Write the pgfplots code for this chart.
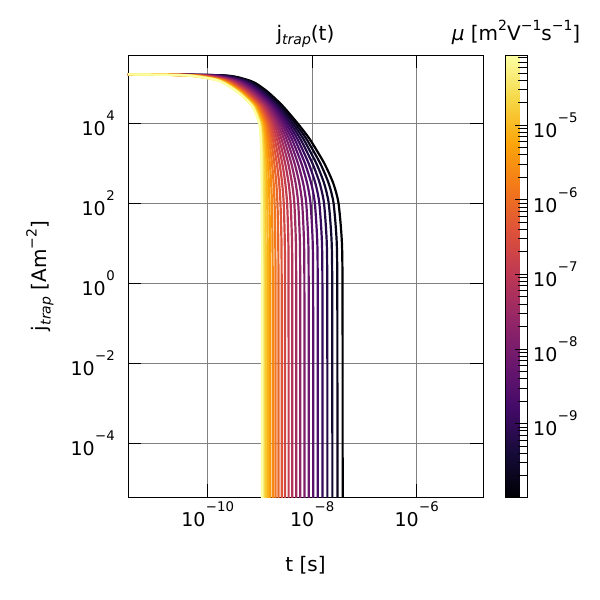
\documentclass[border=0pt]{standalone}
\usepackage{fontspec}
\setmainfont{DejaVu Sans}
\usepackage{pgfplots}
\pgfplotsset{compat=1.18}
\usepackage{pgfplotstable}

\newcommand\tl[1]{{\fontsize{19}{19}\selectfont 10}\kern0.5pt\raisebox{15pt}{\fontsize{13.3}{13.3}\selectfont #1}}
\newcommand\sps[1]{\raisebox{10pt}{\fontsize{14}{14}\selectfont #1}}

\pgfplotsset{colormap={inferno}{rgb255=(0,0,4) rgb255=(22,11,57) rgb255=(66,10,104) rgb255=(106,23,110) rgb255=(147,38,103) rgb255=(188,55,84) rgb255=(221,81,58) rgb255=(243,120,25) rgb255=(252,165,10) rgb255=(246,215,70) rgb255=(252,255,164)}}
\pgfplotsset{cur/.style={line width=2.2pt, line join=round, smooth, tension=0.4, color of colormap={#1 of inferno}}}

% log10(j) and log10(t) for 24 values of mu (c0: largest mu, c23: smallest mu)
\pgfplotstableread{
j c0 c1 c2 c3 c4 c5 c6 c7 c8 c9 c10 c11 c12 c13 c14 c15 c16 c17 c18 c19 c20 c21 c22 c23
5.225 -11.6 -11.6 -11.6 -11.6 -11.6 -11.6 -11.6 -11.6 -11.6 -11.6 -11.6 -11.6 -11.6 -11.6 -11.6 -11.6 -11.6 -11.6 -11.6 -11.6 -11.6 -11.6 -11.6 -11.6
5.2 -10.434 -10.428 -10.416 -10.400 -10.382 -10.361 -10.338 -10.313 -10.286 -10.258 -10.227 -10.196 -10.162 -10.128 -10.092 -10.054 -10.016 -9.976 -9.935 -9.893 -9.849 -9.805 -9.760 -9.713
5.1 -9.887 -9.881 -9.871 -9.858 -9.843 -9.825 -9.805 -9.784 -9.762 -9.737 -9.712 -9.685 -9.656 -9.627 -9.596 -9.565 -9.532 -9.498 -9.463 -9.428 -9.391 -9.353 -9.315 -9.275
5.0 -9.686 -9.681 -9.670 -9.657 -9.642 -9.625 -9.605 -9.584 -9.562 -9.537 -9.512 -9.485 -9.457 -9.428 -9.398 -9.366 -9.334 -9.300 -9.266 -9.230 -9.194 -9.156 -9.118 -9.079
4.8 -9.445 -9.440 -9.430 -9.418 -9.403 -9.386 -9.367 -9.347 -9.326 -9.303 -9.278 -9.253 -9.226 -9.198 -9.169 -9.139 -9.107 -9.075 -9.042 -9.008 -8.973 -8.937 -8.901 -8.863
4.6 -9.271 -9.266 -9.256 -9.244 -9.229 -9.212 -9.194 -9.174 -9.153 -9.130 -9.105 -9.080 -9.053 -9.025 -8.997 -8.967 -8.936 -8.904 -8.871 -8.837 -8.802 -8.767 -8.730 -8.693
4.4 -9.133 -9.128 -9.118 -9.105 -9.090 -9.073 -9.054 -9.033 -9.011 -8.988 -8.963 -8.937 -8.910 -8.881 -8.851 -8.821 -8.789 -8.756 -8.723 -8.688 -8.652 -8.616 -8.578 -8.540
4.0 -9.014 -9.007 -8.995 -8.979 -8.961 -8.940 -8.916 -8.891 -8.863 -8.834 -8.803 -8.771 -8.737 -8.702 -8.665 -8.627 -8.588 -8.547 -8.505 -8.462 -8.418 -8.373 -8.326 -8.279
3.6 -8.984 -8.975 -8.960 -8.940 -8.916 -8.889 -8.859 -8.826 -8.791 -8.754 -8.715 -8.673 -8.630 -8.585 -8.538 -8.489 -8.439 -8.387 -8.333 -8.278 -8.222 -8.164 -8.105 -8.044
3.0 -8.970 -8.959 -8.939 -8.913 -8.883 -8.848 -8.810 -8.768 -8.724 -8.676 -8.625 -8.572 -8.517 -8.459 -8.399 -8.337 -8.273 -8.206 -8.138 -8.068 -7.995 -7.921 -7.846 -7.768
2.5 -8.967 -8.955 -8.932 -8.902 -8.868 -8.828 -8.784 -8.737 -8.686 -8.631 -8.574 -8.514 -8.450 -8.385 -8.316 -8.245 -8.172 -8.096 -8.018 -7.938 -7.855 -7.771 -7.684 -7.596
2.0 -8.966 -8.953 -8.928 -8.897 -8.859 -8.817 -8.770 -8.719 -8.664 -8.606 -8.544 -8.479 -8.412 -8.341 -8.267 -8.191 -8.113 -8.031 -7.948 -7.862 -7.773 -7.683 -7.590 -7.495
1.0 -8.962 -8.948 -8.923 -8.890 -8.851 -8.807 -8.758 -8.705 -8.648 -8.587 -8.523 -8.455 -8.385 -8.311 -8.234 -8.155 -8.073 -7.989 -7.901 -7.812 -7.720 -7.626 -7.529 -7.430
-0.5 -8.961 -8.947 -8.921 -8.888 -8.849 -8.805 -8.755 -8.702 -8.645 -8.583 -8.519 -8.451 -8.380 -8.305 -8.228 -8.148 -8.066 -7.981 -7.893 -7.803 -7.710 -7.615 -7.518 -7.418
-6.5 -8.961 -8.947 -8.921 -8.888 -8.849 -8.804 -8.755 -8.702 -8.644 -8.583 -8.518 -8.450 -8.379 -8.305 -8.227 -8.147 -8.065 -7.979 -7.891 -7.801 -7.708 -7.613 -7.516 -7.416
}\jtrap

\begin{document}
\begin{tikzpicture}
\path[use as bounding box] (0pt,0pt) rectangle (600pt,-600pt);
\begin{axis}[
  at={(128pt,-497pt)}, anchor=south west,
  scale only axis, width=355pt, height=442pt,
  xmode=log, ymode=log,
  xmin=2.99e-12, xmax=1.86e-5, ymin=4.54e-6, ymax=5.1e5,
  xtick={1e-10,1e-8,1e-6},
  xticklabels={\tl{−10},\tl{−8},\tl{−6}},
  ytick={1e-4,1e-2,1,1e2,1e4},
  yticklabels={\tl{−4},\tl{−2},\tl{0},\tl{2},\tl{4}},
  minor tick length=0pt,
  tick align=inside, major tick length=13pt,
  tick style={black, line width=0.8pt},
  grid=major, major grid style={gray, line width=0.8pt},
  axis line style={line width=0.9pt},
  xticklabel style={anchor=base, inner sep=0pt, yshift=-29.7pt},
  yticklabel style={anchor=east, inner sep=0pt, xshift=-13pt},
  xlabel={t [s]},
  xlabel style={at={(axis description cs:0.5,-0.169)}, anchor=base, inner sep=0pt, font=\fontsize{20}{20}\selectfont},
  ylabel={j\raisebox{-4pt}{\fontsize{14}{14}\selectfont\itshape trap} [Am\sps{−2}]},
  ylabel style={at={(axis description cs:-0.229,0.5)}, anchor=base, inner sep=0pt, font=\fontsize{20}{20}\selectfont},
  title={j\raisebox{-4pt}{\fontsize{14}{14}\selectfont\itshape trap}(t)},
  title style={at={(axis description cs:0.5,1)}, anchor=base, inner sep=0pt, yshift=9pt, font=\fontsize{20}{20}\selectfont},
  colormap name=inferno,
  point meta min=-9.985, point meta max=-4.06,
  colorbar,
  colorbar style={
    at={(parent axis.north east)}, anchor=north west, xshift=13.5pt,
    scale only axis, width=22pt, height=442pt,
    ytick={-9,-8,-7,-6,-5},
    yticklabels={\tl{−9},\tl{−8},\tl{−7},\tl{−6},\tl{−5}},
    minor ytick={-9.699,-9.523,-9.398,-9.301,-9.222,-9.155,-9.097,-9.046,
      -8.699,-8.523,-8.398,-8.301,-8.222,-8.155,-8.097,-8.046,
      -7.699,-7.523,-7.398,-7.301,-7.222,-7.155,-7.097,-7.046,
      -6.699,-6.523,-6.398,-6.301,-6.222,-6.155,-6.097,-6.046,
      -5.699,-5.523,-5.398,-5.301,-5.222,-5.155,-5.097,-5.046,
      -4.699,-4.523,-4.398,-4.301,-4.222,-4.155,-4.097},
    ytick pos=right, yticklabel pos=right,
    tick align=inside,
    major tick length=12pt, minor tick length=9pt,
    tick style={black, line width=0.8pt},
    axis line style={line width=0.8pt},
    yticklabel style={anchor=west, inner sep=0pt, xshift=6pt},
    title={\textit{μ} [m\sps{2}V\sps{−1}s\sps{−1}]},
    title style={at={(axis description cs:0.5,1)}, anchor=base, inner sep=0pt, yshift=8.7pt, font=\fontsize{20}{20}\selectfont},
  },
]
\addplot[cur=0] table[x expr={pow(10,\thisrow{c23})}, y expr={pow(10,\thisrow{j})}] {\jtrap};
\addplot[cur=43.5] table[x expr={pow(10,\thisrow{c22})}, y expr={pow(10,\thisrow{j})}] {\jtrap};
\addplot[cur=87] table[x expr={pow(10,\thisrow{c21})}, y expr={pow(10,\thisrow{j})}] {\jtrap};
\addplot[cur=130.4] table[x expr={pow(10,\thisrow{c20})}, y expr={pow(10,\thisrow{j})}] {\jtrap};
\addplot[cur=173.9] table[x expr={pow(10,\thisrow{c19})}, y expr={pow(10,\thisrow{j})}] {\jtrap};
\addplot[cur=217.4] table[x expr={pow(10,\thisrow{c18})}, y expr={pow(10,\thisrow{j})}] {\jtrap};
\addplot[cur=260.9] table[x expr={pow(10,\thisrow{c17})}, y expr={pow(10,\thisrow{j})}] {\jtrap};
\addplot[cur=304.3] table[x expr={pow(10,\thisrow{c16})}, y expr={pow(10,\thisrow{j})}] {\jtrap};
\addplot[cur=347.8] table[x expr={pow(10,\thisrow{c15})}, y expr={pow(10,\thisrow{j})}] {\jtrap};
\addplot[cur=391.3] table[x expr={pow(10,\thisrow{c14})}, y expr={pow(10,\thisrow{j})}] {\jtrap};
\addplot[cur=434.8] table[x expr={pow(10,\thisrow{c13})}, y expr={pow(10,\thisrow{j})}] {\jtrap};
\addplot[cur=478.3] table[x expr={pow(10,\thisrow{c12})}, y expr={pow(10,\thisrow{j})}] {\jtrap};
\addplot[cur=521.7] table[x expr={pow(10,\thisrow{c11})}, y expr={pow(10,\thisrow{j})}] {\jtrap};
\addplot[cur=565.2] table[x expr={pow(10,\thisrow{c10})}, y expr={pow(10,\thisrow{j})}] {\jtrap};
\addplot[cur=608.7] table[x expr={pow(10,\thisrow{c9})}, y expr={pow(10,\thisrow{j})}] {\jtrap};
\addplot[cur=652.2] table[x expr={pow(10,\thisrow{c8})}, y expr={pow(10,\thisrow{j})}] {\jtrap};
\addplot[cur=695.7] table[x expr={pow(10,\thisrow{c7})}, y expr={pow(10,\thisrow{j})}] {\jtrap};
\addplot[cur=739.1] table[x expr={pow(10,\thisrow{c6})}, y expr={pow(10,\thisrow{j})}] {\jtrap};
\addplot[cur=782.6] table[x expr={pow(10,\thisrow{c5})}, y expr={pow(10,\thisrow{j})}] {\jtrap};
\addplot[cur=826.1] table[x expr={pow(10,\thisrow{c4})}, y expr={pow(10,\thisrow{j})}] {\jtrap};
\addplot[cur=869.6] table[x expr={pow(10,\thisrow{c3})}, y expr={pow(10,\thisrow{j})}] {\jtrap};
\addplot[cur=913] table[x expr={pow(10,\thisrow{c2})}, y expr={pow(10,\thisrow{j})}] {\jtrap};
\addplot[cur=956.5] table[x expr={pow(10,\thisrow{c1})}, y expr={pow(10,\thisrow{j})}] {\jtrap};
\addplot[cur=1000] table[x expr={pow(10,\thisrow{c0})}, y expr={pow(10,\thisrow{j})}] {\jtrap};
\end{axis}
\end{tikzpicture}
\end{document}
